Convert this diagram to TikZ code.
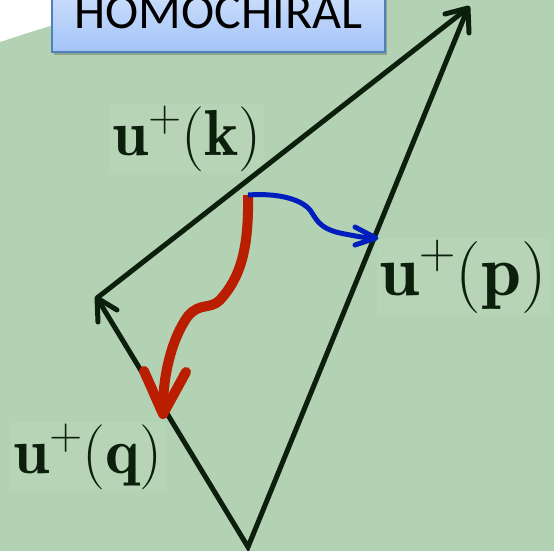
\RequirePackage{fix-cm}
\documentclass[tikz,border=0pt]{standalone}
\usepackage{fontspec}
\newfontfamily\titlefont{Carlito}
\usetikzlibrary{shadows}
\definecolor{bggreen}{RGB}{179,209,179}
\definecolor{patch}{RGB}{183,212,183}
\definecolor{ink}{RGB}{12,30,12}
\definecolor{redarrow}{RGB}{185,30,0}
\definecolor{bluearrow}{RGB}{0,30,190}
\definecolor{boxborder}{RGB}{79,129,189}
\definecolor{boxtop}{RGB}{220,232,252}
\definecolor{boxbottom}{RGB}{163,196,248}
\begin{document}
\begin{tikzpicture}[x=1pt,y=-1pt,
  vec/.style={draw=ink,line width=5pt,line join=miter},
  vechead/.style={draw=ink,line width=5pt,line cap=round,line join=round},
  redshaft/.style={draw=redarrow,line width=10pt},
  redhead/.style={draw=redarrow,line width=10pt,line cap=round,line join=round},
  blueshaft/.style={draw=bluearrow,line width=5pt},
  bluehead/.style={draw=bluearrow,line width=5pt,line cap=round,line join=round},
  veclabel/.style={fill=patch,inner sep=2pt,text=ink,anchor=base},
  titlebox/.style={draw=boxborder,line width=2pt,top color=boxtop,bottom color=boxbottom,
    minimum width=333pt,minimum height=83pt,text height=35pt,text depth=0pt,inner sep=0pt,
    font=\titlefont\fontsize{50}{60}\selectfont,
    drop shadow={shadow xshift=2pt,shadow yshift=-3pt,opacity=0.35,fill=black!70}}
]
\useasboundingbox (0,0) rectangle (554,550);
\clip (0,0) rectangle (554,550);
\fill[white] (0,0) rectangle (554,550);
\fill[bggreen] (482,1463) circle[radius=1500];

% labels (below the lines)
\node[veclabel,font=\fontsize{65}{78}\selectfont] (lk) at (187,155) {$\mathbf{u}^{+}(\mathbf{k})$};
\node[veclabel,font=\fontsize{72}{86}\selectfont] (lp) at (463,295) {$\mathbf{u}^{+}(\mathbf{p})$};
\node[veclabel,font=\fontsize{65}{78}\selectfont] (lq) at (88,473) {$\mathbf{u}^{+}(\mathbf{q})$};

% vertices
\coordinate (T) at (468,8);
\coordinate (L) at (97,298);
\coordinate (B) at (248,547);
\coordinate (Tw1) at (445,14);
\coordinate (Tw2) at (469,33);
\coordinate (Lw1) at (117,310);
\coordinate (Lw2) at (98,322);

% triangle
\draw[vec] (T) -- (L);
\draw[vec] (L) -- (B) -- (T);
\draw[vechead] (Tw1) -- (T) -- (Tw2);
\draw[vechead] (Lw1) -- (L) -- (Lw2);

% red arrow
\coordinate (Rs) at (248,195);
\coordinate (Rt) at (163,414);
\coordinate (Rw1) at (144,371);
\coordinate (Rw2) at (186,372);
\draw[redshaft,shorten >=6pt] (Rs) .. controls (249,250) and (240,278) .. (220,300)
  .. controls (210,310) and (200,302) .. (188,316)
  .. controls (172,338) and (163,375) .. (Rt);
\draw[redhead] (Rw1) -- (Rt) -- (Rw2);

% blue arrow
\coordinate (Bs) at (248,195);
\coordinate (Bt) at (376,238);
\coordinate (Bw1) at (355,227);
\coordinate (Bw2) at (355,245);
\draw[blueshaft,shorten >=3pt] (Bs) .. controls (275,193) and (300,198) .. (310,210)
  .. controls (316,218) and (318,228) .. (340,233)
  .. controls (355,236) and (365,238) .. (Bt);
\draw[bluehead] (Bw1) -- (Bt) -- (Bw2);

% title box
\node[titlebox,anchor=south] (title) at (218.5,53) {HOMOCHIRAL};
\end{tikzpicture}
\end{document}
